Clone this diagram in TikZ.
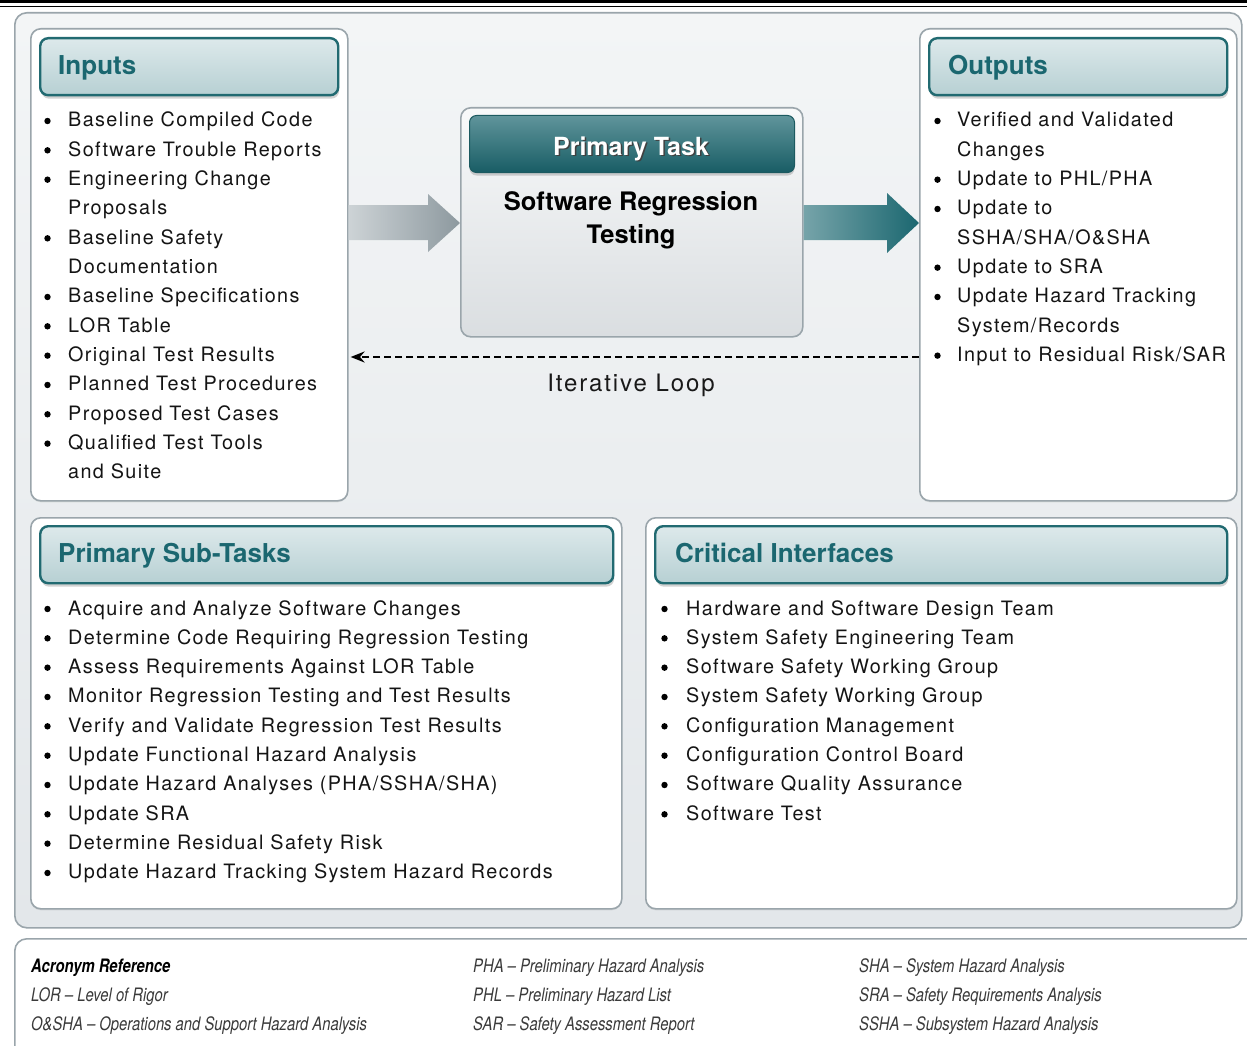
\documentclass[tikz,border=0pt]{standalone}
\usepackage{fontspec}
\setmainfont{TeX Gyre Heros}
\newfontfamily\bodyf[LetterSpace=7]{TeX Gyre Heros}
\newfontfamily\loopf[LetterSpace=8]{TeX Gyre Heros}
\newfontfamily\condf[FakeStretch=0.8]{TeX Gyre Heros}
\usetikzlibrary{shadows,arrows.meta,calc}
\definecolor{tealD}{HTML}{1B6770}
\definecolor{tealB}{HTML}{216A71}
\definecolor{hdTop}{HTML}{DDE9EB}
\definecolor{hdBot}{HTML}{B7D0D3}
\definecolor{boxBd}{HTML}{9AA5AB}
\definecolor{panTop}{HTML}{F3F5F6}
\definecolor{panBot}{HTML}{E3E7EA}
\definecolor{acroT}{HTML}{3A3A3A}
\definecolor{arrL}{HTML}{CDD3D6}
\definecolor{arrR}{HTML}{8D999F}
\tikzset{
  panel/.style={draw=boxBd, line width=1.6pt, rounded corners=12pt, top color=panTop, bottom color=panBot, inner sep=0pt},
  wbox/.style={draw=boxBd, line width=1.6pt, rounded corners=10pt, fill=white, inner sep=0pt, anchor=north west,
    drop shadow={shadow xshift=0pt, shadow yshift=-1.5pt, opacity=0.18}},
  hbox/.style={draw=tealB, line width=2.4pt, rounded corners=8pt, top color=hdTop, bottom color=hdBot, inner sep=0pt, anchor=north west,
    drop shadow={shadow xshift=1pt, shadow yshift=-3.5pt, opacity=0.35}},
  htext/.style={anchor=base west, inner sep=0pt, font=\fontsize{26}{30}\selectfont\bfseries, text=tealD},
  itm/.style={anchor=base west, inner sep=0pt, font=\bodyf\fontsize{19.8}{23}\selectfont, text=black!92},
  bul/.style={circle, fill=black, inner sep=0pt, minimum size=6.4pt},
  acro/.style={anchor=base west, inner sep=0pt, font=\condf\itshape\fontsize{18.5}{22}\selectfont, text=acroT},
}
\begin{document}
\begin{tikzpicture}[x=1pt,y=-1pt]
\useasboundingbox (0,0) rectangle (1247,1046);
\fill[white] (0,0) rectangle (1247,1046);
% top rules
\draw[line width=3.2pt] (0,1.6) -- (1247,1.6);
\draw[line width=1.3pt] (0,6.2) -- (1247,6.2);
% outer panel
\node[panel, anchor=north west, minimum width=1227pt, minimum height=915pt] (outer) at (14,12) {};
% Inputs
\node[wbox, minimum width=317pt, minimum height=472pt] (inputs) at (30,28) {};
\node[hbox, minimum width=298pt, minimum height=57pt] (inh) at (39,37) {};
\node[htext] (intxt) at (58,75) {Inputs};
% Outputs
\node[wbox, minimum width=317pt, minimum height=472pt] (outputs) at (919,28) {};
\node[hbox, minimum width=298pt, minimum height=57pt] (outh) at (928,37) {};
\node[htext] (outtxt) at (948,75) {Outputs};
% Primary task
\node[draw=boxBd, line width=1.6pt, rounded corners=10pt, top color=panTop!60!white, bottom color=black!4!panBot, anchor=north west,
  minimum width=342pt, minimum height=229pt, inner sep=0pt] (prim) at (460,107) {};
\node[draw=tealB!85!black, line width=1pt, rounded corners=7pt, top color=tealD!70!white, bottom color=tealD!90!black, anchor=north west,
  minimum width=325pt, minimum height=57pt, inner sep=0pt, drop shadow={shadow xshift=0pt, shadow yshift=-3pt, opacity=0.35}] (primh) at (469,115) {};
\node[anchor=base, inner sep=0pt, font=\fontsize{25}{30}\selectfont\bfseries, text=black!75] at (632.5,156.5) {Primary Task};
\node[anchor=base, inner sep=0pt, font=\fontsize{25}{30}\selectfont\bfseries, text=white] (primtxt) at (631,155) {Primary Task};
\node[anchor=base, inner sep=0pt, font=\fontsize{25.5}{30}\selectfont\bfseries, text=black, align=center] (srt1) at (631,210) {Software Regression};
\node[anchor=base, inner sep=0pt, font=\fontsize{25.5}{30}\selectfont\bfseries, text=black] (srt2) at (631,243) {Testing};
% fat arrows
\path[left color=arrL, right color=arrR]
  (inputs.east |- 0,205) -- (428,205) -- (428,194) -- (prim.west |- 0,223) -- (428,252) -- (428,240) -- (inputs.east |- 0,240) -- cycle;
\path[left color=tealD!60!white, right color=tealD]
  (prim.east |- 0,205) -- (887,205) -- (887,193) -- (outputs.west |- 0,223) -- (887,253) -- (887,240) -- (prim.east |- 0,240) -- cycle;
% iterative loop
\coordinate (loopR) at (outputs.west |- 0,357);
\coordinate (loopL) at (inputs.east |- 0,357);
\draw[line width=2pt, dash pattern=on 7pt off 4pt, -{Stealth[length=14pt,width=11pt]}] (loopR) -- ([xshift=2pt]loopL);
\node[anchor=base, inner sep=0pt, font=\loopf\fontsize{24}{28}\selectfont, text=black!90] (looptxt) at (631,391.5) {Iterative Loop};
% Inputs list
\foreach \b/\t [count=\i from 0] in {1/Baseline Compiled Code, 1/Software Trouble Reports, 1/Engineering Change, 0/Proposals,
  1/Baseline Safety, 0/Documentation, 1/Baseline Specifications, 1/LOR Table, 1/Original Test Results,
  1/Planned Test Procedures, 1/Proposed Test Cases, 1/Qualified Test Tools, 0/and Suite} {
  \node[itm] (in\i) at (68,127+29.33*\i) {\t};
  \ifnum\b=1 \node[bul] (inb\i) at (47.5,121+29.33*\i) {}; \fi
}
% Outputs list
\foreach \b/\t [count=\i from 0] in {1/Verified and Validated, 0/Changes, 1/{Update to PHL/PHA}, 1/Update to,
  0/{SSHA/SHA/O\&SHA}, 1/Update to SRA, 1/Update Hazard Tracking, 0/{System/Records}, 1/{Input to Residual Risk/SAR}} {
  \node[itm] (out\i) at (957,127+29.33*\i) {\t};
  \ifnum\b=1 \node[bul] (outb\i) at (937.5,121+29.33*\i) {}; \fi
}
% Primary Sub-Tasks
\node[wbox, minimum width=591pt, minimum height=391pt] (sub) at (30,517) {};
\node[hbox, minimum width=573pt, minimum height=57pt] (subh) at (39,525) {};
\node[htext] (subtxt) at (58,562.5) {Primary Sub-Tasks};
\foreach \t [count=\i from 0] in {Acquire and Analyze Software Changes, Determine Code Requiring Regression Testing,
  Assess Requirements Against LOR Table, Monitor Regression Testing and Test Results,
  Verify and Validate Regression Test Results, Update Functional Hazard Analysis,
  {Update Hazard Analyses (PHA/SSHA/SHA)}, Update SRA, Determine Residual Safety Risk,
  Update Hazard Tracking System Hazard Records} {
  \node[itm] (st\i) at (68,615+29.33*\i) {\t};
  \node[bul] (stb\i) at (47.5,609+29.33*\i) {};
}
% Critical Interfaces
\node[wbox, minimum width=591pt, minimum height=391pt] (crit) at (645,517) {};
\node[hbox, minimum width=572pt, minimum height=57pt] (crith) at (654,525) {};
\node[htext] (crittxt) at (675,562.5) {Critical Interfaces};
\foreach \t [count=\i from 0] in {Hardware and Software Design Team, System Safety Engineering Team,
  Software Safety Working Group, System Safety Working Group, Configuration Management,
  Configuration Control Board, Software Quality Assurance, Software Test} {
  \node[itm] (ci\i) at (686,615+29.33*\i) {\t};
  \node[bul] (cib\i) at (664.5,609+29.33*\i) {};
}
% Acronym box
\node[draw=boxBd, line width=1.6pt, rounded corners=12pt, fill=white, anchor=north west, minimum width=1250pt, minimum height=140pt, inner sep=0pt] (acrobox) at (14,938) {};
\node[acro, font=\condf\bfseries\itshape\fontsize{18.5}{22}\selectfont, text=black] (a0) at (31,972.5) {Acronym Reference};
\node[acro] (a1) at (31,1001.5) {LOR – Level of Rigor};
\node[acro] (a2) at (31,1030.5) {O\&SHA – Operations and Support Hazard Analysis};
\node[acro] (a3) at (473,972.5) {PHA – Preliminary Hazard Analysis};
\node[acro] (a4) at (473,1001.5) {PHL – Preliminary Hazard List};
\node[acro] (a5) at (473,1030.5) {SAR – Safety Assessment Report};
\node[acro] (a6) at (859,972.5) {SHA – System Hazard Analysis};
\node[acro] (a7) at (859,1001.5) {SRA – Safety Requirements Analysis};
\node[acro] (a8) at (859,1030.5) {SSHA – Subsystem Hazard Analysis};
\end{tikzpicture}
\end{document}
